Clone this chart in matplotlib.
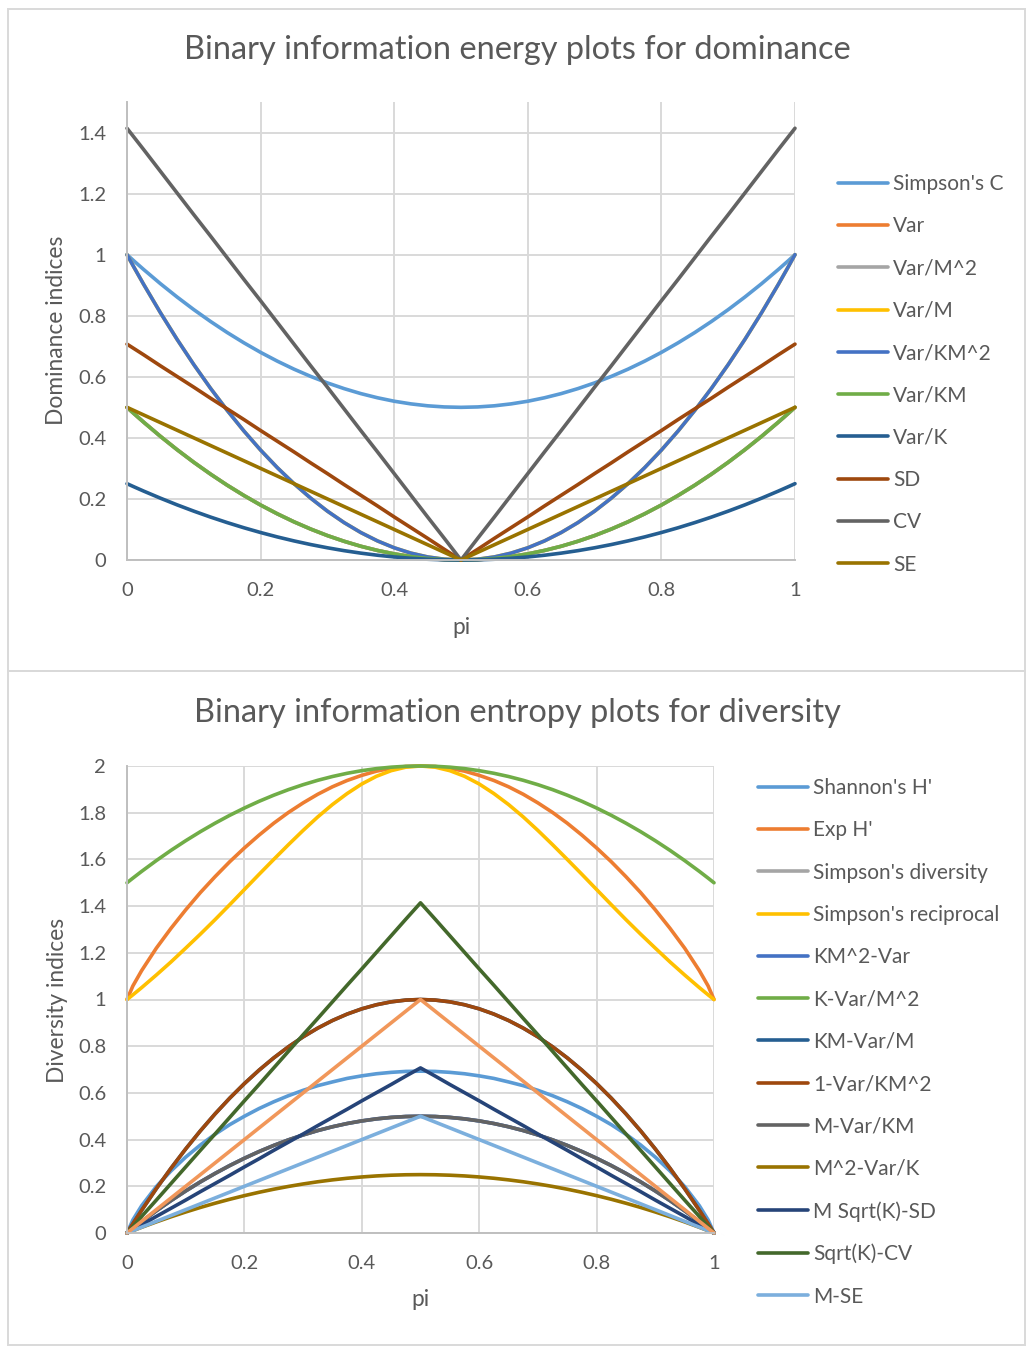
import matplotlib
matplotlib.use('Agg')
import matplotlib.pyplot as plt
from matplotlib.patches import Rectangle
from matplotlib.ticker import FuncFormatter

plt.rcParams['font.family'] = ['Lato', 'DejaVu Sans']

# pi values (x axis)
p = [0, 0.01, 0.025, 0.05, 0.075, 0.1, 0.125, 0.15, 0.175, 0.2, 0.225, 0.25,
     0.275, 0.3, 0.325, 0.35, 0.375, 0.4, 0.425, 0.45, 0.475, 0.5,
     0.525, 0.55, 0.575, 0.6, 0.625, 0.65, 0.675, 0.7, 0.725, 0.75, 0.775,
     0.8, 0.825, 0.85, 0.875, 0.9, 0.925, 0.95, 0.975, 0.99, 1]

# --- dominance indices (top chart) ---
simpson_c = [1, 0.9802, 0.9513, 0.905, 0.8613, 0.82, 0.7813, 0.745, 0.7113, 0.68, 0.6513,
             0.625, 0.6013, 0.58, 0.5613, 0.545, 0.5313, 0.52, 0.5113, 0.505, 0.5013, 0.5,
             0.5013, 0.505, 0.5113, 0.52, 0.5313, 0.545, 0.5613, 0.58, 0.6013, 0.625,
             0.6513, 0.68, 0.7113, 0.745, 0.7813, 0.82, 0.8613, 0.905, 0.9513, 0.9802, 1]
var = [0.5, 0.4802, 0.4513, 0.405, 0.3613, 0.32, 0.2813, 0.245, 0.2113, 0.18, 0.1513,
       0.125, 0.1013, 0.08, 0.0613, 0.045, 0.0313, 0.02, 0.0113, 0.005, 0.0013, 0,
       0.0013, 0.005, 0.0113, 0.02, 0.0313, 0.045, 0.0613, 0.08, 0.1013, 0.125,
       0.1513, 0.18, 0.2113, 0.245, 0.2813, 0.32, 0.3613, 0.405, 0.4513, 0.4802, 0.5]
var_m2 = var      # hidden under Var/KM in the original
var_m = [1, 0.9604, 0.9025, 0.81, 0.7225, 0.64, 0.5625, 0.49, 0.4225, 0.36, 0.3025,
         0.25, 0.2025, 0.16, 0.1225, 0.09, 0.0625, 0.04, 0.0225, 0.01, 0.0025, 0,
         0.0025, 0.01, 0.0225, 0.04, 0.0625, 0.09, 0.1225, 0.16, 0.2025, 0.25,
         0.3025, 0.36, 0.4225, 0.49, 0.5625, 0.64, 0.7225, 0.81, 0.9025, 0.9604, 1]
var_km2 = var_m
var_km = var
var_k = [0.25, 0.2401, 0.2256, 0.2025, 0.1806, 0.16, 0.1406, 0.1225, 0.1056, 0.09, 0.0756,
         0.0625, 0.0506, 0.04, 0.0306, 0.0225, 0.0156, 0.01, 0.0056, 0.0025, 0.0006, 0,
         0.0006, 0.0025, 0.0056, 0.01, 0.0156, 0.0225, 0.0306, 0.04, 0.0506, 0.0625,
         0.0756, 0.09, 0.1056, 0.1225, 0.1406, 0.16, 0.1806, 0.2025, 0.2256, 0.2401, 0.25]
sd = [0.707, 0.693, 0.672, 0.636, 0.601, 0.566, 0.530, 0.495, 0.460, 0.424, 0.389,
      0.354, 0.318, 0.283, 0.247, 0.212, 0.177, 0.141, 0.106, 0.071, 0.035, 0,
      0.035, 0.071, 0.106, 0.141, 0.177, 0.212, 0.247, 0.283, 0.318, 0.354,
      0.389, 0.424, 0.460, 0.495, 0.530, 0.566, 0.601, 0.636, 0.672, 0.693, 0.707]
cv = [1.414, 1.386, 1.344, 1.273, 1.202, 1.131, 1.061, 0.990, 0.919, 0.849, 0.778,
      0.707, 0.636, 0.566, 0.495, 0.424, 0.354, 0.283, 0.212, 0.141, 0.071, 0,
      0.071, 0.141, 0.212, 0.283, 0.354, 0.424, 0.495, 0.566, 0.636, 0.707,
      0.778, 0.849, 0.919, 0.990, 1.061, 1.131, 1.202, 1.273, 1.344, 1.386, 1.414]
se = [0.5, 0.49, 0.475, 0.45, 0.425, 0.4, 0.375, 0.35, 0.325, 0.3, 0.275,
      0.25, 0.225, 0.2, 0.175, 0.15, 0.125, 0.1, 0.075, 0.05, 0.025, 0,
      0.025, 0.05, 0.075, 0.1, 0.125, 0.15, 0.175, 0.2, 0.225, 0.25,
      0.275, 0.3, 0.325, 0.35, 0.375, 0.4, 0.425, 0.45, 0.475, 0.49, 0.5]

dom_labels = ["Simpson's C", 'Var', 'Var/M^2', 'Var/M', 'Var/KM^2', 'Var/KM',
              'Var/K', 'SD', 'CV', 'SE']
dom_series = [simpson_c, var, var_m2, var_m, var_km2, var_km, var_k, sd, cv, se]

# --- diversity indices (bottom chart) ---
shannon = [0, 0.056, 0.117, 0.199, 0.266, 0.325, 0.377, 0.423, 0.464, 0.500, 0.533,
           0.562, 0.588, 0.611, 0.631, 0.647, 0.662, 0.673, 0.682, 0.688, 0.692, 0.693,
           0.692, 0.688, 0.682, 0.673, 0.662, 0.647, 0.631, 0.611, 0.588, 0.562,
           0.533, 0.500, 0.464, 0.423, 0.377, 0.325, 0.266, 0.199, 0.117, 0.056, 0]
exp_h = [1, 1.058, 1.124, 1.220, 1.305, 1.384, 1.458, 1.526, 1.590, 1.649, 1.704,
         1.755, 1.801, 1.842, 1.879, 1.911, 1.938, 1.960, 1.978, 1.990, 1.998, 2,
         1.998, 1.990, 1.978, 1.960, 1.938, 1.911, 1.879, 1.842, 1.801, 1.755,
         1.704, 1.649, 1.590, 1.526, 1.458, 1.384, 1.305, 1.220, 1.124, 1.058, 1]
simpson_div = [0, 0.0198, 0.0488, 0.095, 0.1388, 0.18, 0.2188, 0.255, 0.2888, 0.32, 0.3488,
               0.375, 0.3988, 0.42, 0.4388, 0.455, 0.4688, 0.48, 0.4888, 0.495, 0.4988, 0.5,
               0.4988, 0.495, 0.4888, 0.48, 0.4688, 0.455, 0.4388, 0.42, 0.3988, 0.375,
               0.3488, 0.32, 0.2888, 0.255, 0.2188, 0.18, 0.1388, 0.095, 0.0488, 0.0198, 0]
simpson_recip = [1, 1.020, 1.051, 1.105, 1.161, 1.220, 1.280, 1.342, 1.406, 1.471, 1.536,
                 1.6, 1.663, 1.724, 1.782, 1.835, 1.882, 1.923, 1.956, 1.980, 1.995, 2,
                 1.995, 1.980, 1.956, 1.923, 1.882, 1.835, 1.782, 1.724, 1.663, 1.6,
                 1.536, 1.471, 1.406, 1.342, 1.280, 1.220, 1.161, 1.105, 1.051, 1.020, 1]
km2_var = simpson_div
k_var_m2 = [1.5, 1.5198, 1.5488, 1.595, 1.6388, 1.68, 1.7188, 1.755, 1.7888, 1.82, 1.8488,
            1.875, 1.8988, 1.92, 1.9388, 1.955, 1.9688, 1.98, 1.9888, 1.995, 1.9988, 2,
            1.9988, 1.995, 1.9888, 1.98, 1.9688, 1.955, 1.9388, 1.92, 1.8988, 1.875,
            1.8488, 1.82, 1.7888, 1.755, 1.7188, 1.68, 1.6388, 1.595, 1.5488, 1.5198, 1.5]
km_var_m = [0, 0.0396, 0.0975, 0.19, 0.2775, 0.36, 0.4375, 0.51, 0.5775, 0.64, 0.6975,
            0.75, 0.7975, 0.84, 0.8775, 0.91, 0.9375, 0.96, 0.9775, 0.99, 0.9975, 1,
            0.9975, 0.99, 0.9775, 0.96, 0.9375, 0.91, 0.8775, 0.84, 0.7975, 0.75,
            0.6975, 0.64, 0.5775, 0.51, 0.4375, 0.36, 0.2775, 0.19, 0.0975, 0.0396, 0]
one_var_km2 = km_var_m
m_var_km = simpson_div
m2_var_k = [0, 0.0099, 0.0244, 0.0475, 0.0694, 0.09, 0.1094, 0.1275, 0.1444, 0.16, 0.1744,
            0.1875, 0.1994, 0.21, 0.2194, 0.2275, 0.2344, 0.24, 0.2444, 0.2475, 0.2494, 0.25,
            0.2494, 0.2475, 0.2444, 0.24, 0.2344, 0.2275, 0.2194, 0.21, 0.1994, 0.1875,
            0.1744, 0.16, 0.1444, 0.1275, 0.1094, 0.09, 0.0694, 0.0475, 0.0244, 0.0099, 0]
m_sqrtk_sd = [0, 0.014, 0.035, 0.071, 0.106, 0.141, 0.177, 0.212, 0.247, 0.283, 0.318,
              0.354, 0.389, 0.424, 0.460, 0.495, 0.530, 0.566, 0.601, 0.636, 0.672, 0.707,
              0.672, 0.636, 0.601, 0.566, 0.530, 0.495, 0.460, 0.424, 0.389, 0.354,
              0.318, 0.283, 0.247, 0.212, 0.177, 0.141, 0.106, 0.071, 0.035, 0.014, 0]
sqrtk_cv = [0, 0.028, 0.071, 0.141, 0.212, 0.283, 0.354, 0.424, 0.495, 0.566, 0.636,
            0.707, 0.778, 0.849, 0.919, 0.990, 1.061, 1.131, 1.202, 1.273, 1.344, 1.414,
            1.344, 1.273, 1.202, 1.131, 1.061, 0.990, 0.919, 0.849, 0.778, 0.707,
            0.636, 0.566, 0.495, 0.424, 0.354, 0.283, 0.212, 0.141, 0.071, 0.028, 0]
m_se = [0, 0.01, 0.025, 0.05, 0.075, 0.1, 0.125, 0.15, 0.175, 0.2, 0.225,
        0.25, 0.275, 0.3, 0.325, 0.35, 0.375, 0.4, 0.425, 0.45, 0.475, 0.5,
        0.475, 0.45, 0.425, 0.4, 0.375, 0.35, 0.325, 0.3, 0.275, 0.25,
        0.225, 0.2, 0.175, 0.15, 0.125, 0.1, 0.075, 0.05, 0.025, 0.01, 0]
# 14th series: drawn but cut off from the legend in the original
k_sd = [0, 0.02, 0.05, 0.1, 0.15, 0.2, 0.25, 0.3, 0.35, 0.4, 0.45,
        0.5, 0.55, 0.6, 0.65, 0.7, 0.75, 0.8, 0.85, 0.9, 0.95, 1,
        0.95, 0.9, 0.85, 0.8, 0.75, 0.7, 0.65, 0.6, 0.55, 0.5,
        0.45, 0.4, 0.35, 0.3, 0.25, 0.2, 0.15, 0.1, 0.05, 0.02, 0]

div_labels = ["Shannon's H'", "Exp H'", "Simpson's diversity", "Simpson's reciprocal",
              'KM^2-Var', 'K-Var/M^2', 'KM-Var/M', '1-Var/KM^2', 'M-Var/KM',
              'M^2-Var/K', 'M Sqrt(K)-SD', 'Sqrt(K)-CV', 'M-SE', '_hidden']
div_series = [shannon, exp_h, simpson_div, simpson_recip, km2_var, k_var_m2, km_var_m,
              one_var_km2, m_var_km, m2_var_k, m_sqrtk_sd, sqrtk_cv, m_se, k_sd]

colors = ['#5B9BD5', '#ED7D31', '#A5A5A5', '#FFC000', '#4472C4', '#70AD47',
          '#255E91', '#9E480E', '#636363', '#997300', '#264478', '#43682B',
          '#7CAFDD', '#F1975A']

txt = '#595959'
grid = '#D9D9D9'

fig = plt.figure(figsize=(10.27, 13.5), dpi=100)
W, H = 1027, 1350


def fx(px):
    return px / W


def fy(py):
    return 1 - py / H


# chart frames
for y0, y1 in [(9, 671), (671, 1345)]:
    fig.add_artist(Rectangle((fx(8), fy(y1)), fx(1025) - fx(8), fy(y0) - fy(y1),
                             transform=fig.transFigure, fill=False,
                             edgecolor=grid, linewidth=1.4))

fmt = FuncFormatter(lambda v, pos: '{:g}'.format(round(v, 2)))


def style_axes(ax, ymax, yticks):
    ax.set_xlim(0, 1)
    ax.set_ylim(0, ymax)
    ax.set_xticks([0, 0.2, 0.4, 0.6, 0.8, 1])
    ax.set_yticks(yticks)
    ax.xaxis.set_major_formatter(fmt)
    ax.yaxis.set_major_formatter(fmt)
    ax.grid(True, color=grid, linewidth=1.4, zorder=0)
    ax.set_axisbelow(True)
    for s in ['top', 'right']:
        ax.spines[s].set_visible(False)
    for s in ['left', 'bottom']:
        ax.spines[s].set_color('#BFBFBF')
        ax.spines[s].set_linewidth(1.4)
    ax.tick_params(length=0, labelsize=14.5, colors=txt)
    ax.tick_params(axis='x', pad=15.5)
    ax.tick_params(axis='y', pad=15)


leg_kw = dict(loc='upper left', frameon=False, fontsize=15, handlelength=2.4,
              handletextpad=0.25, labelspacing=1.07, borderpad=0, borderaxespad=0,
              labelcolor=txt)

# top chart
ax1 = fig.add_axes([fx(127), fy(560), fx(795) - fx(127), fy(102) - fy(560)])
for vals, lab, c in zip(dom_series, dom_labels, colors):
    ax1.plot(p, vals, color=c, linewidth=2.6, label=lab, solid_joinstyle='round',
             solid_capstyle='round', clip_on=False)
style_axes(ax1, 1.5, [0, 0.2, 0.4, 0.6, 0.8, 1, 1.2, 1.4])
fig.text(fx(517), fy(50), 'Binary information energy plots for dominance',
         ha='center', va='center', fontsize=23.4, color=txt)
fig.text(fx(57), fy(330), 'Dominance indices', rotation=90, ha='center',
         va='center', fontsize=16.4, color=txt)
fig.text(fx(461), fy(627), 'pi', ha='center', va='center', fontsize=16.4, color=txt)
h1, l1 = ax1.get_legend_handles_labels()
fig.legend(h1, l1, bbox_to_anchor=(fx(838), fy(174)), **leg_kw)

# bottom chart
ax2 = fig.add_axes([fx(127), fy(1233), fx(714) - fx(127), fy(766) - fy(1233)])
for vals, lab, c in zip(div_series, div_labels, colors):
    ax2.plot(p, vals, color=c, linewidth=2.6, label=lab, solid_joinstyle='round',
             solid_capstyle='round', clip_on=False)
style_axes(ax2, 2, [0, 0.2, 0.4, 0.6, 0.8, 1, 1.2, 1.4, 1.6, 1.8, 2])
fig.text(fx(517), fy(713), 'Binary information entropy plots for diversity',
         ha='center', va='center', fontsize=23.4, color=txt)
fig.text(fx(57), fy(1000), 'Diversity indices', rotation=90, ha='center',
         va='center', fontsize=16.4, color=txt)
fig.text(fx(420), fy(1300), 'pi', ha='center', va='center', fontsize=16.4, color=txt)
h2, l2 = ax2.get_legend_handles_labels()
fig.legend(h2[:13], l2[:13], bbox_to_anchor=(fx(758), fy(778)), **leg_kw)

fig.savefig('out.png', dpi=100)
